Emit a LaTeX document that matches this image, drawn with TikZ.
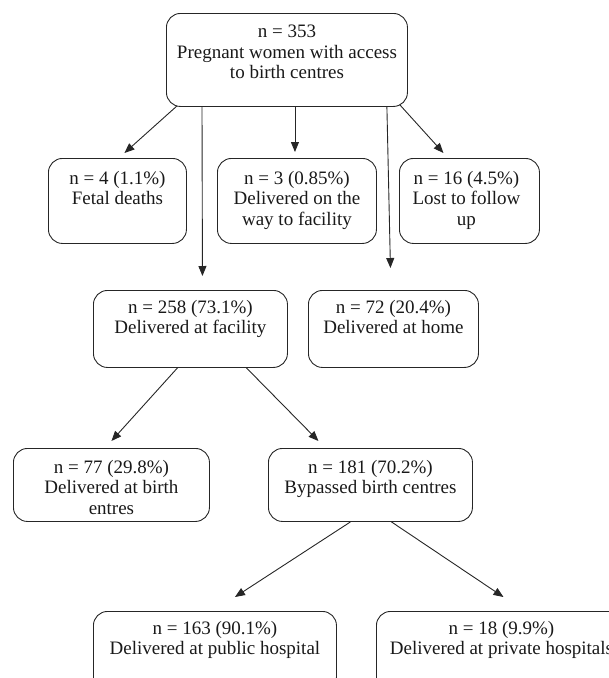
\documentclass[tikz,border=0pt]{standalone}
\usepackage{fontspec}
\setmainfont{Liberation Serif}
\usetikzlibrary{shapes}
\usetikzlibrary{arrows.meta}
\usetikzlibrary{positioning}

\begin{document}
\begin{tikzpicture}
        [x=1pt, y=-1pt,
         frame/.style={draw=black!85, line width=0.9pt, rounded corners=14pt, anchor=north west, inner sep=0pt},
         words/.style={anchor=north, align=center, inner sep=0pt, text=black!90,
                       font=\fontsize{19}{20.5}\selectfont, execute at begin node=\strut},
         link/.style={draw=black!85, line width=0.9pt, -{Triangle[length=10pt,width=8pt]}}]
        \useasboundingbox (0,0) rectangle (609,678);
        \clip (0,0) rectangle (609,678);
        % boxes
        \node [frame, minimum width=241pt, minimum height=93pt] (top) at (166,13) { };
        \node [frame, minimum width=138pt, minimum height=85pt] (fetal) at (48,158) { };
        \node [frame, minimum width=159pt, minimum height=85pt] (onway) at (217,158) { };
        \node [frame, minimum width=140pt, minimum height=85pt] (lost) at (399,158) { };
        \node [frame, minimum width=194pt, minimum height=77pt] (facility) at (93,290) { };
        \node [frame, minimum width=170pt, minimum height=77pt] (home) at (308,290) { };
        \node [frame, minimum width=196pt, minimum height=73pt] (birth) at (13,448) { };
        \node [frame, minimum width=204pt, minimum height=73pt] (bypass) at (268,448) { };
        \node [frame, minimum width=243pt, minimum height=80pt] (public) at (93,611) { };
        \node [frame, minimum width=250pt, minimum height=80pt] (private) at (376,611) { };
        % texts
        \node [words] (toptxt) at ([yshift=-12pt]top.north) {n = 353\\Pregnant women with access\\to birth centres};
        \node [words] (fetaltxt) at ([yshift=-13pt]fetal.north) {n = 4 (1.1\%)\\Fetal deaths};
        \node [words] (onwaytxt) at ([yshift=-13pt]onway.north) {n = 3 (0.85\%)\\Delivered on the\\way to facility};
        \node [words] (losttxt) at ([xshift=-3pt,yshift=-13pt]lost.north) {n = 16 (4.5\%)\\Lost to follow\\up};
        \node [words] (facilitytxt) at ([yshift=-10pt]facility.north) {n = 258 (73.1\%)\\Delivered at facility};
        \node [words] (hometxt) at ([yshift=-10pt]home.north) {n = 72 (20.4\%)\\Delivered at home};
        \node [words] (birthtxt) at ([yshift=-12pt]birth.north) {n = 77 (29.8\%)\\Delivered at birth\\entres};
        \node [words] (bypasstxt) at ([yshift=-12pt]bypass.north) {n = 181 (70.2\%)\\Bypassed birth centres};
        \node [words] (publictxt) at ([yshift=-10pt]public.north) {n = 163 (90.1\%)\\Delivered at public hospital};
        \node [words] (privatetxt) at ([yshift=-10pt]private.north) {n = 18 (9.9\%)\\Delivered at private hospitals};
        % arrows
        \draw [link] ([xshift=11pt,yshift=1pt]top.south west) -- ([xshift=7pt,yshift=5pt]fetal.north);
        \draw [link] ([xshift=36pt]top.south west) -- ([xshift=12pt,yshift=14pt]facility.north);
        \draw [link] ([xshift=8pt]top.south) -- ([xshift=-2pt,yshift=6pt]onway.north);
        \draw [link] ([xshift=-21pt]top.south east) -- ([xshift=-3pt,yshift=22pt]home.north);
        \draw [link] ([xshift=-8pt,yshift=2pt]top.south east) -- ([xshift=-26pt,yshift=5pt]lost.north);
        \draw [link] ([xshift=-13pt]facility.south) -- ([yshift=7pt]birth.north);
        \draw [link] ([xshift=56pt]facility.south) -- ([xshift=-52pt,yshift=7pt]bypass.north);
        \draw [link] ([xshift=-20pt]bypass.south) -- ([xshift=20pt,yshift=14pt]public.north);
        \draw [link] ([xshift=21pt]bypass.south) -- ([xshift=2pt,yshift=14pt]private.north);
\end{tikzpicture}
\end{document}
